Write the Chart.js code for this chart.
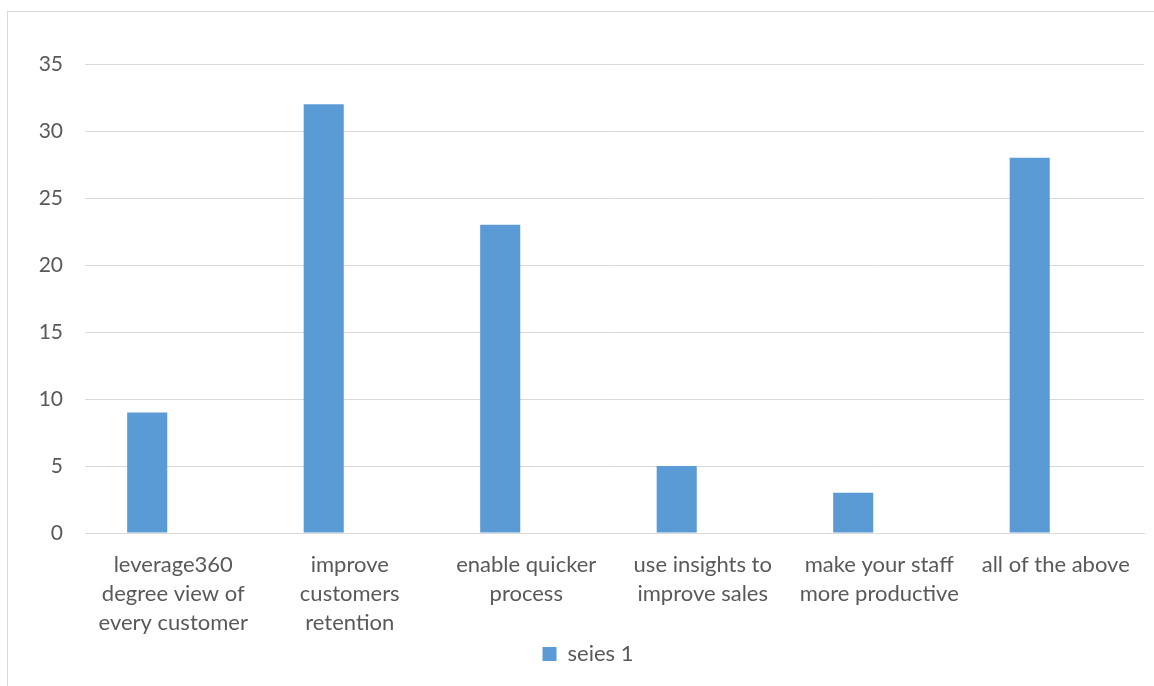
<!DOCTYPE html>
<html>
<head>
<meta charset="utf-8">
<script src="https://cdn.jsdelivr.net/npm/chart.js@4"></script>
<style>
  html, body { margin: 0; padding: 0; background: #fff; overflow: hidden; }
  .frame {
    position: absolute; left: 7px; top: 11px;
    width: 1170px; height: 700px;
    border: 1px solid #d9d9d9; box-sizing: border-box;
  }
  .wrap { position: absolute; left: 8px; top: 12px; width: 1146px; height: 674px; }
</style>
</head>
<body>
<div class="frame"></div>
<div class="wrap"><canvas id="chart"></canvas></div>
<script>
const categories = [
  ['leverage360', 'degree view of', 'every customer'],
  ['improve', 'customers', 'retention'],
  ['enable quicker', 'process'],
  ['use insights to', 'improve sales'],
  ['make your staff', 'more productive'],
  ['all of the above']
];
const series1 = [9, 32, 23, 5, 3, 28];
// the source sheet has an empty second series slot, which pushes the bars left
const emptySeries = [0, 0, 0, 0, 0, 0];
const yMax = 35;
const yStep = 5;

const textColor = '#595959';
const gridColor = '#d9d9d9';
const barColor = '#5b9bd5';
const fontFamily = 'Lato, "Open Sans", sans-serif';

new Chart(document.getElementById('chart'), {
  type: 'bar',
  data: {
    labels: categories,
    datasets: [
      { label: 'seies 1', data: series1, backgroundColor: barColor, borderWidth: 0 },
      { label: '', data: emptySeries, backgroundColor: 'rgba(0,0,0,0)', borderWidth: 0 }
    ]
  },
  options: {
    responsive: true,
    maintainAspectRatio: false,
    animation: false,
    categoryPercentage: 0.59,
    barPercentage: 0.77,
    layout: { padding: { top: 52, right: 10, bottom: 11, left: 24 } },
    plugins: {
      tooltip: { enabled: false },
      legend: {
        position: 'bottom',
        labels: {
          color: textColor,
          font: { family: fontFamily, size: 22 },
          boxWidth: 14,
          boxHeight: 14,
          padding: 6,
          filter: item => item.text !== ''
        }
      }
    },
    scales: {
      x: {
        grid: { display: false },
        border: { display: true, color: gridColor, width: 1 },
        ticks: {
          color: textColor,
          font: { family: fontFamily, size: 22, lineHeight: 1.3 },
          padding: 10,
          maxRotation: 0,
          autoSkip: false
        },
        afterFit: scale => { scale.height = 104; }
      },
      y: {
        min: 0,
        max: yMax,
        grid: { color: gridColor, lineWidth: 1, drawTicks: false },
        border: { display: false },
        ticks: {
          stepSize: yStep,
          color: textColor,
          font: { family: fontFamily, size: 21 },
          padding: 22
        },
        afterFit: scale => { scale.width = 53; }
      }
    }
  }
});
</script>
</body>
</html>
